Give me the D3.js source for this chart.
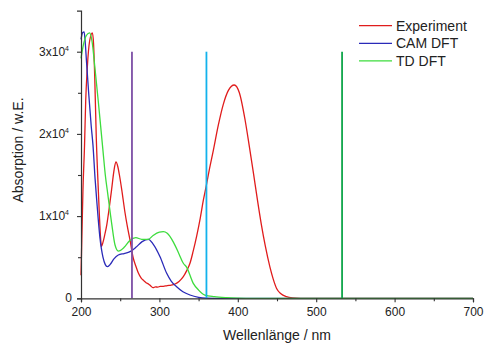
<!DOCTYPE html>
<html><head><meta charset="utf-8">
<script src="https://cdn.jsdelivr.net/npm/d3@7"></script>
<style>body{margin:0;background:#fff}svg{display:block}text{font-family:"Liberation Sans",Arial,sans-serif;fill:#222}</style>
</head><body><svg id="c" width="485" height="347"></svg>
<script>
const seriesNames = ["Experiment", "CAM DFT", "TD DFT"];
const seriesColors = ["#e01c1c", "#2a2ab8", "#3ddc3d"];

const expWl = [200,201,202.5,204.5,206,208,211,214.5,216,217.5,219.5,221.5,223.5,225,226,228,230,233,236,239,242,244.5,247,249,252,256,259,262.5,266.7,270,273,277,280,283,286,289,292,295,298,301,305,310,315,320,325,330.5,335,339,343,347.6,352,356,360,364,368.8,375,381.5,388,395.5,402,409.3,415,420,425,430,435,441,445,449.5,455,462,470,480,500,550,600,650,700];
const expAbs = [2800,7000,13200,18600,24000,28000,31300,32300,31000,27000,19500,14500,10000,7300,6280,6800,7600,9000,11000,13200,15500,16600,16000,15000,13200,10500,8800,7100,4870,3900,3100,2430,2150,1900,1750,1500,1290,1400,1350,1450,1450,1550,1600,1740,2050,2630,3400,4260,5700,7600,9700,11900,13800,15800,18000,21000,23600,25300,25950,25000,21690,18300,15200,12000,9000,6400,3800,2400,1200,550,200,50,0,0,0,0,0,0];

const camWl = [200,202,204,205.5,207,210,213,215.3,218,220,224,228,231,233.5,237,242,247.6,255,262.5,270,278,286,292,300.8,309.3,315,322,330,339,350,360,370,400,500,600,700];
const camAbs = [31500,32300,32400,31000,28800,24700,21000,18600,14500,12000,7500,5000,4100,3850,4100,4800,5270,5450,5670,6200,6900,7180,6600,5060,3040,2100,1410,800,400,120,20,0,0,0,0,0];

const tdWl = [200,203,207,211,214,218,222,225,228,231,234,239.1,243.4,247.6,255,262,270,277.4,285.9,292,300,305,310,318,325,330.5,334.8,343.2,350,358,370,386,400,420,500,600,700];
const tdAbs = [29200,30800,32000,32300,31300,27800,24000,21000,18000,15000,12800,9120,6480,5750,6200,7000,7370,7180,7180,7650,8050,8100,7900,6800,5400,4260,3770,1820,1000,400,200,80,30,0,0,0,0];

const transWl = [265, 360, 533];
const transAbs = [30000, 30000, 30000];
const transColors = ["#7d4fa6", "#12b2ec", "#0fa64a"];

const xTicks = [200,300,400,500,600,700];
const xMinor = [250,350,450,550,650];
const yTicks = [0,10000,20000,30000];
const yMinor = [5000,15000,25000];
const yTickLabels = ["0","1x10","2x10","3x10"];
const xTitle = "Wellenlänge / nm";
const yTitle = "Absorption / w.E.";

const svg = d3.select("#c");
const x = d3.scaleLinear().domain([200,700]).range([81,473]);
const y = d3.scaleLinear().domain([0,35000]).range([298.3,10.6]);
const axisCol = "#333";

const line = d3.line().x(d=>x(d[0])).y(d=>y(d[1])).curve(d3.curveMonotoneX);
const series = [
  d3.zip(expWl, expAbs),
  d3.zip(camWl, camAbs),
  d3.zip(tdWl, tdAbs)
];
[0,1,2].forEach(i=>{
  svg.append("path").attr("d", line(series[i])).attr("fill","none")
    .attr("stroke", seriesColors[i]).attr("stroke-width",1.3).attr("stroke-linejoin","round");
});

svg.selectAll("line.tr").data(d3.range(transWl.length)).join("line").attr("class","tr")
  .attr("x1", i=>x(transWl[i])).attr("x2", i=>x(transWl[i]))
  .attr("y1", y(0)).attr("y2", i=>y(transAbs[i]))
  .attr("stroke", i=>transColors[i]).attr("stroke-width",1.8);

const gx = svg.append("g").attr("transform",`translate(0,${y(0)})`)
  .call(d3.axisBottom(x).tickValues(xTicks).tickSize(4).tickPadding(5).tickFormat(d3.format("d")));
gx.selectAll(".domain").attr("stroke",axisCol).attr("stroke-width",1.2);
gx.selectAll(".tick line").attr("stroke",axisCol).attr("stroke-width",1.1);
gx.selectAll("text").attr("font-size",12).attr("fill","#222").attr("font-family","Liberation Sans, Arial, sans-serif");
const gxm = svg.append("g").attr("transform",`translate(0,${y(0)})`)
  .call(d3.axisBottom(x).tickValues(xMinor).tickSize(3).tickFormat(""));
gxm.select(".domain").remove();
gxm.selectAll(".tick line").attr("stroke",axisCol).attr("stroke-width",1.1);

const gy = svg.append("g").attr("transform",`translate(${x(200)},0)`)
  .call(d3.axisLeft(y).tickValues(yTicks).tickSize(4).tickFormat(""));
gy.selectAll(".domain").attr("stroke",axisCol).attr("stroke-width",1.2);
gy.selectAll(".tick line").attr("stroke",axisCol).attr("stroke-width",1.1);
const gym = svg.append("g").attr("transform",`translate(${x(200)},0)`)
  .call(d3.axisLeft(y).tickValues(yMinor).tickSize(3).tickFormat(""));
gym.select(".domain").remove();
gym.selectAll(".tick line").attr("stroke",axisCol).attr("stroke-width",1.1);

yTicks.forEach((v,i)=>{
  const t = svg.append("text").attr("x", i===0 ? 72 : 69).attr("y", y(v)+4)
    .attr("text-anchor","end").attr("font-size",12);
  t.append("tspan").text(yTickLabels[i]);
  if(i>0) t.append("tspan").attr("dy",-5).attr("font-size",7).text("4");
});

svg.append("text").attr("x",277).attr("y",340).attr("text-anchor","middle").attr("font-size",14).text(xTitle);
svg.append("text").attr("transform","translate(23,150) rotate(-90)").attr("text-anchor","middle").attr("font-size",14).text(yTitle);

seriesNames.forEach((n,i)=>{
  const yy = 25.7 + i*17.6;
  svg.append("line").attr("x1",359).attr("x2",392).attr("y1",yy).attr("y2",yy)
    .attr("stroke",seriesColors[i]).attr("stroke-width",1.3);
  svg.append("text").attr("x",396).attr("y",yy+4.8).attr("font-size",14).text(n);
});
</script></body></html>
